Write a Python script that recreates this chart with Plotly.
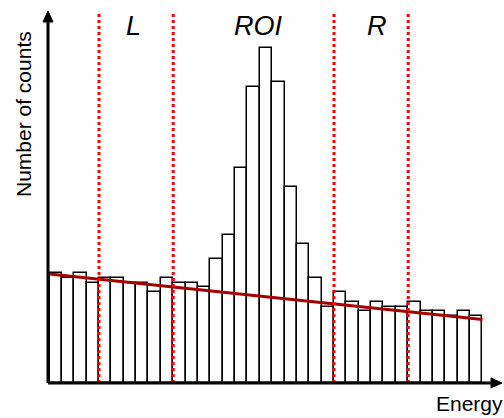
import plotly.graph_objects as go

# ---- data ----
counts = [23, 22, 23, 21, 22, 22, 21, 21, 19, 22, 21, 21, 20, 26, 31, 45, 62, 70,
          63, 41, 29, 22, 16, 19, 17, 15, 17, 16, 16, 17, 15, 15, 14, 15, 14]
bin_centers = [i + 0.5 for i in range(len(counts))]
fit_x = [0, 35]
fit_y = [22.8, 13.3]
region_edges = [4, 10, 23, 29]
region_labels = ["L", "ROI", "R"]
region_label_x = [6.8, 16.9, 26.5]

# ---- layout constants ----
W, H = 504, 418
PAD = 8                      # extra room left of / below the axes
ML, MR, MT, MB = 48 - PAD, 2, 11, 35 - PAD
PW, PH = W - ML - MR, H - MT - MB
XS, YS = 12.37, 4.78         # pixels per bin, pixels per count
FONT = "Liberation Sans, Arial, sans-serif"
ax_x = -1.5 / XS             # x position of the vertical axis (data units)
x_lo = ax_x - PAD / XS
x_hi = (W - MR - 49.5) / XS
y_lo = -PAD / YS
y_hi = y_lo + PH / YS

fig = go.Figure()
fig.add_trace(go.Bar(
    x=bin_centers, y=counts, width=1,
    marker=dict(color="white", line=dict(color="black", width=1.5)),
    hoverinfo="skip", showlegend=False,
))
fig.add_trace(go.Scatter(
    x=fit_x, y=fit_y, mode="lines",
    line=dict(color="#a50000", width=3),
    hoverinfo="skip", showlegend=False,
))

# axis arrow heads as filled triangles
hx, hl = 5.0, 11.0
fig.add_trace(go.Scatter(
    x=[x_hi, x_hi - hl / XS, x_hi - hl / XS, x_hi], y=[0, hx / YS, -hx / YS, 0],
    mode="lines", fill="toself", fillcolor="black", line=dict(color="black", width=1),
    hoverinfo="skip", showlegend=False,
))
fig.add_trace(go.Scatter(
    x=[ax_x, ax_x - hx / XS, ax_x + hx / XS, ax_x], y=[y_hi, y_hi - hl / YS, y_hi - hl / YS, y_hi],
    mode="lines", fill="toself", fillcolor="black", line=dict(color="black", width=1),
    hoverinfo="skip", showlegend=False,
))

shapes = []
for e in region_edges:
    shapes.append(dict(type="line", xref="x", yref="paper", x0=e, x1=e, y0=PAD / PH, y1=1,
                       line=dict(color="#ff0000", width=3, dash="dot"), layer="above"))
# axis lines
shapes.append(dict(type="line", xref="x", yref="y", x0=ax_x, x1=x_hi - 8 / XS, y0=0, y1=0,
                   line=dict(color="black", width=3), layer="above"))
shapes.append(dict(type="line", xref="x", yref="y", x0=ax_x, x1=ax_x, y0=0, y1=y_hi - 8 / YS,
                   line=dict(color="black", width=3), layer="above"))

annotations = []
for lab, lx in zip(region_labels, region_label_x):
    annotations.append(dict(text=f"<i>{lab}</i>", x=lx, xref="x", y=(H - MB - 26) / PH, yref="paper",
                            showarrow=False, font=dict(family=FONT, size=27, color="black"),
                            xanchor="center", yanchor="middle"))
annotations.append(dict(text="Number of counts", textangle=-90, x=(24 - ML) / PW, xref="paper",
                        y=(H - MB - 114) / PH, yref="paper", showarrow=False,
                        font=dict(family=FONT, size=21, color="black"),
                        xanchor="center", yanchor="middle"))
annotations.append(dict(text="Energy", x=(469 - ML) / PW, xref="paper",
                        y=(H - MB - 403) / PH, yref="paper", showarrow=False,
                        font=dict(family=FONT, size=21, color="black"),
                        xanchor="center", yanchor="middle"))

fig.update_layout(
    width=W, height=H,
    margin=dict(l=ML, r=MR, t=MT, b=MB, pad=0),
    paper_bgcolor="white", plot_bgcolor="white",
    xaxis=dict(range=[x_lo, x_hi], showgrid=False, zeroline=False, showticklabels=False,
               showline=False, ticks=""),
    yaxis=dict(range=[y_lo, y_hi], showgrid=False, zeroline=False, showticklabels=False,
               showline=False, ticks=""),
    shapes=shapes, annotations=annotations, bargap=0,
)
fig.write_html("out.html")
